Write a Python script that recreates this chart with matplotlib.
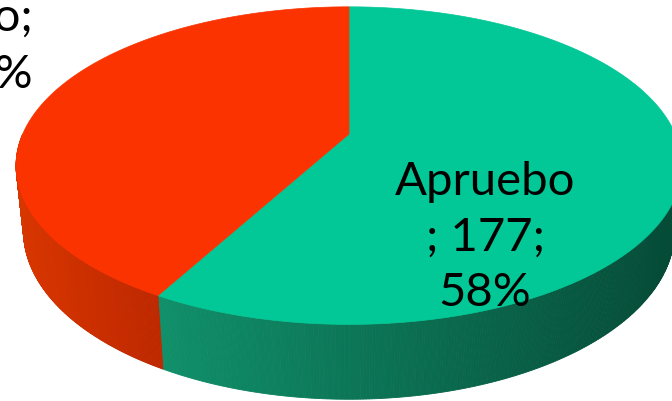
import numpy as np
import matplotlib.pyplot as plt
from matplotlib.patches import Polygon
from matplotlib.colors import to_rgb

# ---------------- data ----------------
labels = ["Apruebo", "Rechazo"]
values = [177, 128]
top_colors = ["#02C796", "#FA3300"]
side_left = ["#10906A", "#D83600"]   # side wall colour at the slice's left end
side_right = ["#054A36", "#BE2800"]  # side wall colour at the slice's right end

# ---------------- projection (3D pie with perspective) ----------------
W, H = 672, 402
CX, CY = 349, 135          # pixel position of pie centre
F = 1510.0                 # focal length in pixels
FX = F * 0.968             # horizontal scale
D = 4.48                   # camera distance (radius = 1)
ELEV = np.deg2rad(26.9)
DEPTH = 0.219              # thickness of the pie
ce, se = np.cos(ELEV), np.sin(ELEV)


def proj(t, z, r=1.0):
    """t: angle clockwise from the back (12 o'clock), z: height."""
    X = r * np.sin(t)
    Y = r * np.cos(t)
    w = D + Y * ce - z * se
    sx = CX + FX * X / w
    sy = CY - F * (Y * se + z * ce) / w
    return sx, sy


fig = plt.figure(figsize=(W / 100, H / 100), dpi=100)
ax = fig.add_axes([0, 0, 1, 1])
ax.set_xlim(0, W)
ax.set_ylim(H, 0)
ax.axis("off")

total = sum(values)
fracs = np.array(values) / total
bounds = np.concatenate([[0], np.cumsum(fracs)]) * 2 * np.pi

# ---------------- side wall (front half only) ----------------
for i in range(len(values)):
    t0, t1 = bounds[i], bounds[i + 1]
    lo, hi = max(t0, np.pi / 2), min(t1, 3 * np.pi / 2)
    if lo >= hi:
        continue
    ts = np.linspace(lo, hi, 300)
    xs_all, _ = proj(ts, 0)
    xmin, xmax = xs_all.min(), xs_all.max()
    cl, cr = np.array(to_rgb(side_left[i])), np.array(to_rgb(side_right[i]))
    for a, b in zip(ts[:-1], ts[1:]):
        xa, ya = proj(a, 0)
        xb, yb = proj(b, 0)
        xa2, ya2 = proj(a, -DEPTH)
        xb2, yb2 = proj(b, -DEPTH)
        k = ((xa + xb) / 2 - xmin) / max(xmax - xmin, 1)
        col = cl + (cr - cl) * k
        ax.add_patch(Polygon([(xa, ya), (xb, yb), (xb2, yb2), (xa2, ya2)],
                             closed=True, facecolor=col, edgecolor=col, lw=0.6))

# ---------------- top face ----------------
for i in range(len(values)):
    ts = np.linspace(bounds[i], bounds[i + 1], 400)
    xs, ys = proj(ts, 0)
    pts = [(CX, CY)] + list(zip(xs, ys))
    ax.add_patch(Polygon(pts, closed=True, facecolor=top_colors[i],
                         edgecolor=top_colors[i], lw=0.5))

# ---------------- labels ----------------
pcts = [round(100 * f) for f in fracs]
font = dict(family=["Lato", "DejaVu Sans"], fontsize=34, color="black")

# va="baseline" puts the last line's baseline at y
ax.text(485, 306, f"{labels[0]}\n; {values[0]};\n{pcts[0]}%",
        ha="center", va="baseline", linespacing=1.39, **font)
ax.text(33, 88, f"{labels[1]};\n{values[1]}; {pcts[1]}%",
        ha="right", va="baseline", multialignment="right", linespacing=1.44, **font)

fig.savefig("out.png", dpi=100)
